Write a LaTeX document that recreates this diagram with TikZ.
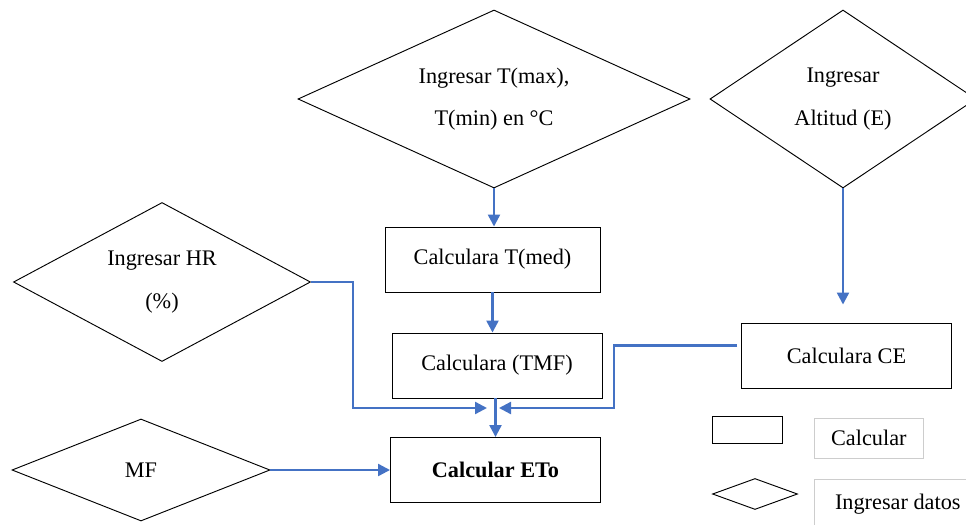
\documentclass[tikz,border=0pt]{standalone}
\usepackage{fontspec}
\setmainfont{Liberation Serif}
\usetikzlibrary{arrows.meta,positioning,calc,shapes.geometric}

\definecolor{flowblue}{RGB}{68,114,196}
\definecolor{legendgray}{RGB}{205,205,205}

\begin{document}
\begin{tikzpicture}[
    x=0.03cm, y=-0.03cm,
    font=\fontsize{19}{23}\selectfont,
    arrow/.style={-{Triangle[length=3.6mm,width=3.6mm]}, line width=2pt, draw=flowblue},
    calcbox/.style={draw, line width=0.8pt, minimum width=6.3cm, minimum height=1.95cm, align=center},
    inputbox/.style={draw, diamond, line width=0.8pt, inner sep=0pt, align=center, font=\fontsize{19}{36}\selectfont},
    legendbox/.style={draw=legendgray, line width=0.8pt, minimum height=1.2cm, inner xsep=0.5cm, anchor=west}
]

\clip (0,0) rectangle (966,525);

% entradas
\node[inputbox, shape aspect=2.2, minimum width=11.76cm, minimum height=5.34cm] (temp) at (494,99)
{Ingresar T(max),\\T(min) en °C};
\node[inputbox, shape aspect=1.5, minimum width=7.98cm, minimum height=5.34cm] (alt) at (843,99)
{Ingresar\\Altitud (E)};
\node[inputbox, shape aspect=1.87, minimum width=8.91cm, minimum height=4.77cm] (hr) at (162,282)
{Ingresar HR\\(\%)};
\node[inputbox, shape aspect=2.5, minimum width=7.74cm, minimum height=3.06cm] (mf) at (141,470) {MF};

% calculos
\node[calcbox, minimum width=6.45cm] (tmed) at (492.5,259.5) {Calculara T(med)};
\node[calcbox] (tmf) at (497,365.5) {Calculara (TMF)};
\node[calcbox] (ce) at (846.5,355.5) {Calculara CE};
\node[calcbox, font=\fontsize{19}{23}\selectfont\bfseries] (eto) at (495.5,470) {Calcular ETo};

\coordinate (joinL) at (487,408);
\coordinate (joinR) at (499,408);

\draw[arrow] (temp.south) -- (temp.south |- tmed.north);
\draw[arrow] (tmed.south) -- (tmed.south |- tmf.north);
\draw[arrow, shorten >=5.4mm] (alt.south) -- (alt.south |- ce.north);
\draw[arrow] (hr.east) -- ++(42,0) |- (joinL);
\draw[arrow] ($(ce.west)+(-4,-10)$) -- ++(-123,0) |- (joinR);
\draw[arrow] (tmf.south -| eto.north) -- (eto.north);
\draw[arrow] (mf.east) -- (mf.east -| eto.west);

% leyenda
\node[draw, line width=0.8pt, minimum width=2.1cm, minimum height=0.81cm] (legcalc) at (747,429.5) {};
\node[draw, diamond, line width=0.8pt, inner sep=0pt, minimum width=2.55cm, minimum height=0.93cm] (legin) at (755,494) {};
\node[legendbox, minimum width=3.24cm] (legcalctext) at (814,438) {Calcular};
\node[legendbox, minimum width=5cm, minimum height=1.53cm] (legintext) at (814,504.5) {Ingresar datos};

\end{tikzpicture}
\end{document}
